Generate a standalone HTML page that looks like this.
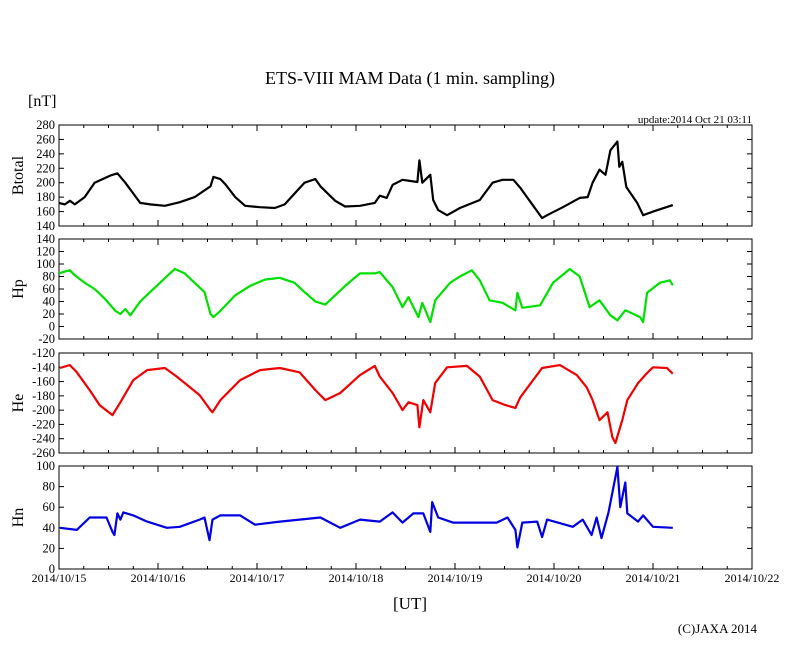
<!DOCTYPE html>
<html><head><meta charset="utf-8"><style>
body{margin:0;background:#fff;}
svg{display:block;font-family:"Liberation Serif",serif;}
</style></head><body>
<svg id="chart" width="810" height="655" viewBox="0 0 810 655">
<text x="410" y="84" font-size="18" text-anchor="middle">ETS-VIII MAM Data (1 min. sampling)</text>
<text x="28" y="106" font-size="16">[nT]</text>
<text x="752" y="123" font-size="11" text-anchor="end">update:2014 Oct 21 03:11</text>
<text x="410" y="609" font-size="17" text-anchor="middle">[UT]</text>
<text x="757" y="633" font-size="13" text-anchor="end">(C)JAXA 2014</text>
<g id="panels"></g>
</svg>
<script>
const xTickLabels=["2014/10/15","2014/10/16","2014/10/17","2014/10/18","2014/10/19","2014/10/20","2014/10/21","2014/10/22"];
const btTime=[0,.06,.11,.16,.26,.36,.52,.59,.67,.75,.82,.92,1.07,1.22,1.37,1.53,1.56,1.63,1.68,1.78,1.88,2.03,2.18,2.28,2.38,2.48,2.59,2.64,2.79,2.89,3.04,3.19,3.24,3.31,3.37,3.47,3.62,3.64,3.67,3.75,3.78,3.83,3.92,4.05,4.25,4.38,4.48,4.59,4.66,4.88,4.93,5.09,5.26,5.34,5.39,5.46,5.52,5.57,5.64,5.66,5.69,5.73,5.84,5.90,6.00,6.20];
const btVal=[172,170,175,170,180,200,210,213,200,185,172,170,168,173,180,195,208,205,198,180,168,166,165,170,185,200,205,195,175,167,168,172,182,179,197,204,201,231,200,211,176,162,155,165,176,200,204,204,193,151,155,166,179,180,200,218,211,245,257,222,229,194,172,155,160,169];
const hpTime=[0,.06,.11,.16,.26,.36,.46,.57,.62,.67,.72,.82,.92,1.02,1.12,1.17,1.27,1.37,1.47,1.53,1.56,1.63,1.78,1.93,2.08,2.23,2.38,2.48,2.59,2.69,2.79,2.89,3.04,3.19,3.24,3.37,3.47,3.53,3.63,3.67,3.75,3.80,3.95,4.05,4.17,4.25,4.35,4.48,4.61,4.63,4.68,4.86,4.99,5.16,5.26,5.36,5.46,5.57,5.64,5.72,5.87,5.90,5.94,6.07,6.17,6.20];
const hpVal=[85,88,90,82,70,60,45,25,20,28,18,40,55,70,85,92,85,70,55,20,15,25,50,65,75,78,70,55,40,35,50,65,85,85,87,63,31,47,15,38,7,42,70,80,90,74,42,38,26,54,30,34,70,92,80,31,42,18,10,26,15,7,54,70,74,66];
const heTime=[.01,.11,.18,.31,.41,.54,.62,.75,.89,1.07,1.19,1.42,1.53,1.55,1.63,1.83,2.03,2.23,2.43,2.59,2.69,2.84,3.04,3.19,3.24,3.37,3.47,3.53,3.62,3.64,3.68,3.75,3.80,3.92,4.12,4.25,4.38,4.51,4.61,4.66,4.88,5.06,5.23,5.33,5.39,5.46,5.54,5.59,5.62,5.69,5.74,5.85,5.94,6.00,6.14,6.20];
const heVal=[-141,-137,-147,-172,-193,-207,-189,-158,-144,-141,-153,-179,-200,-203,-186,-158,-144,-141,-147,-172,-186,-176,-151,-138,-153,-176,-200,-189,-193,-224,-186,-203,-162,-140,-138,-153,-186,-193,-197,-182,-141,-137,-151,-168,-186,-214,-203,-238,-246,-214,-186,-162,-148,-140,-141,-149];
const hnTime=[.01,.18,.31,.48,.54,.56,.59,.62,.65,.75,.89,1.09,1.22,1.42,1.47,1.52,1.55,1.63,1.83,1.98,2.23,2.43,2.64,2.84,3.04,3.24,3.37,3.47,3.58,3.68,3.75,3.77,3.83,3.98,4.25,4.42,4.53,4.61,4.63,4.68,4.83,4.88,4.93,5.19,5.29,5.38,5.43,5.48,5.55,5.64,5.67,5.72,5.74,5.85,5.90,6.00,6.20];
const hnVal=[40,38,50,50,36,33,54,48,55,52,46,40,41,48,50,28,48,52,52,43,46,48,50,40,48,46,55,45,54,54,36,65,50,45,45,45,50,38,21,45,46,31,48,41,48,33,50,30,55,99,60,84,54,46,52,41,40];
const btTicks=[140,160,180,200,220,240,260,280];
const hpTicks=[-20,0,20,40,60,80,100,120,140];
const heTicks=[-260,-240,-220,-200,-180,-160,-140,-120];
const hnTicks=[0,20,40,60,80,100];

const NS="http://www.w3.org/2000/svg";
const X0=59,X1=752,DAYS=7;
const xs=t=>X0+(X1-X0)*t/DAYS;
const g=document.getElementById('panels');
function mk(tag,attrs,parent){const e=document.createElementNS(NS,tag);for(const k in attrs)e.setAttribute(k,attrs[k]);(parent||g).appendChild(e);return e;}
const panels=[
 {name:'btotal',label:'Btotal',top:125,bot:226,ticks:btTicks,t:btTime,v:btVal,color:'#000'},
 {name:'hp',label:'Hp',top:239,bot:339,ticks:hpTicks,t:hpTime,v:hpVal,color:'#00e000'},
 {name:'he',label:'He',top:353,bot:453,ticks:heTicks,t:heTime,v:heVal,color:'#f00000'},
 {name:'hn',label:'Hn',top:466,bot:569,ticks:hnTicks,t:hnTime,v:hnVal,color:'#0000e0'}];
panels.forEach((p,pi)=>{
 const lo=p.ticks[0],hi=p.ticks[p.ticks.length-1];
 const ys=v=>p.bot-(p.bot-p.top)*(v-lo)/(hi-lo);
 const pg=mk('g',{});
 
 
 const fr=mk('rect',{x:X0,y:p.top,width:X1-X0,height:p.bot-p.top,fill:'none',stroke:'#000','stroke-width':1},pg);
 
 
 p.ticks.forEach(tv=>{
  const y=ys(tv);
  mk('line',{x1:X0,x2:X0+5,y1:y,y2:y,stroke:'#000'},pg);
  mk('line',{x1:X1,x2:X1-5,y1:y,y2:y,stroke:'#000'},pg);
  const tx=mk('text',{x:X0-4,y:y+4,'font-size':12.5,'text-anchor':'end'},pg);
  tx.textContent=tv;
  
  
 });
 for(let i=0;i<=DAYS*4;i++){
  const x=xs(i/4),len=i%4===0?6:3;
  mk('line',{x1:x,x2:x,y1:p.bot,y2:p.bot-len,stroke:'#000'},pg);
  mk('line',{x1:x,x2:x,y1:p.top,y2:p.top+len,stroke:'#000'},pg);
 }
 const cy=(p.top+p.bot)/2;
 const yl=mk('text',{x:23,y:cy,'font-size':16,'text-anchor':'middle',transform:`rotate(-90 23 ${cy})`},pg);
 yl.textContent=p.label;
 
 
 const d=p.t.map((t,i)=>(i?'L':'M')+xs(t).toFixed(1)+','+ys(p.v[i]).toFixed(1)).join('');
 const ln=mk('path',{d:d,fill:'none',stroke:p.color,'stroke-width':2.2,'stroke-linejoin':'round'},pg);
 
 
});
xTickLabels.forEach((lab,i)=>{
 const t=mk('text',{x:xs(i),y:582,'font-size':12,'text-anchor':'middle'});
 t.textContent=lab;
 
 
});
</script>
</body></html>
